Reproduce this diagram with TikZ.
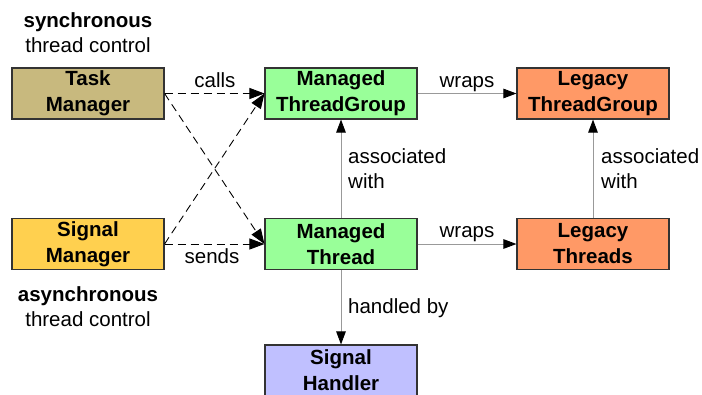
\documentclass[tikz,border=0pt]{standalone}
\usepackage{fontspec}
\setmainfont{Liberation Sans}
\usetikzlibrary{arrows.meta}
\definecolor{tmcol}{HTML}{C8B97E}
\definecolor{smcol}{HTML}{FFD04F}
\definecolor{mgcol}{HTML}{99FF99}
\definecolor{lgcol}{HTML}{FF9966}
\definecolor{shcol}{HTML}{C0C0FF}
\definecolor{linegray}{HTML}{999999}
\tikzset{
  box/.style={draw=black!80, line width=1.1pt, minimum width=152pt, minimum height=51pt,
    inner sep=0pt, align=center, font=\fontsize{20.5}{26}\selectfont\bfseries},
  lbl/.style={font=\fontsize{20.5}{26}\selectfont, inner sep=0pt},
  dashconn/.style={-{Triangle[length=15pt,width=11pt,black,fill=black]}, black, line width=0.9pt, dash pattern=on 8pt off 5pt},
  solidconn/.style={-{Triangle[length=13pt,width=9.5pt,black,fill=black]}, draw=linegray, line width=0.9pt},
}
\begin{document}
\begin{tikzpicture}[x=1pt,y=-1pt]
\useasboundingbox (0,0) rectangle (702,394);
\clip (0,0) rectangle (702,394);
\fill[white] (0,0) rectangle (702,394);
% boxes
\node[box, fill=tmcol] (tm) at (88,93.5) {Task\\Manager};
\node[box, fill=smcol] (sm) at (88,244) {Signal\\Manager};
\node[box, fill=mgcol] (mtg) at (341,93.5) {Managed\\ThreadGroup};
\node[box, fill=mgcol] (mt) at (341,244) {Managed\\Thread};
\node[box, fill=lgcol] (ltg) at (593,93.5) {Legacy\\ThreadGroup};
\node[box, fill=lgcol] (lt) at (593,244) {Legacy\\Threads};
\node[box, fill=shcol] (sh) at (341,370.5) {Signal\\Handler};
% side texts
\node[lbl, anchor=base, font=\fontsize{20.5}{26}\selectfont\bfseries] (syn) at (88,27) {synchronous};
\node[lbl, anchor=base] (syn2) at (88,52) {thread control};
\node[lbl, anchor=base, font=\fontsize{20.5}{26}\selectfont\bfseries] (asyn) at (88,301) {asynchronous};
\node[lbl, anchor=base] (asyn2) at (88,326.5) {thread control};
% connectors
\draw[dashconn] (tm.east) -- (mtg.west);
\draw[dashconn] (tm.east) -- (mt.west);
\draw[dashconn] (sm.east) -- (mtg.west);
\draw[dashconn] (sm.east) -- (mt.west);
\draw[solidconn] (mt.north) -- (mtg.south);
\draw[solidconn] (mtg.east) -- (ltg.west);
\draw[solidconn] (mt.east) -- (lt.west);
\draw[solidconn] (lt.north) -- (ltg.south);
\draw[solidconn] (mt.south) -- (sh.north);
% connector labels
\node[lbl, anchor=base] (calls) at (215,87) {calls};
\node[lbl, anchor=base] (sends) at (212,263) {sends};
\node[lbl, anchor=base] (wr1) at (467,87) {wraps};
\node[lbl, anchor=base] (wr2) at (467,237) {wraps};
\node[lbl, anchor=base west] (as1) at (348,163) {associated};
\node[lbl, anchor=base west] (as1b) at (348,188) {with};
\node[lbl, anchor=base west] (as2) at (601,163) {associated};
\node[lbl, anchor=base west] (as2b) at (601,188) {with};
\node[lbl, anchor=base west] (hb) at (348,313) {handled by};
\end{tikzpicture}
\end{document}
